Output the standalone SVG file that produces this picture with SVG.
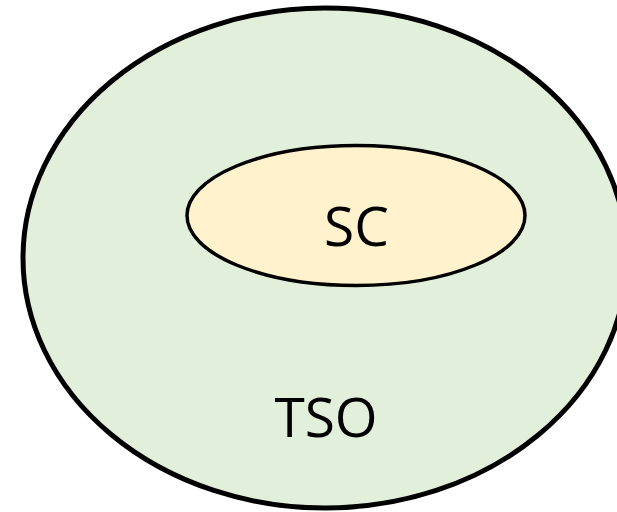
<svg xmlns="http://www.w3.org/2000/svg" width="617" height="512" viewBox="0 0 617 512">
  <style>
    .ring { stroke: #000; }
    .label { font-family: "Open Sans", "Noto Sans", "Liberation Sans", sans-serif; fill: #000; text-anchor: middle; }
  </style>
  <rect width="617" height="512" fill="#fff"/>
  <g id="tso">
    <ellipse class="ring" cx="325" cy="258" rx="302" ry="250" fill="#E2EFDA" stroke-width="5"/>
    <text class="label" x="326" y="437" font-size="55">TSO</text>
  </g>
  <g id="sc">
    <ellipse class="ring" cx="356" cy="215.5" rx="169" ry="70" fill="#FFF2CC" stroke-width="3.5"/>
    <text class="label" x="356.5" y="246" font-size="55">SC</text>
  </g>
</svg>
